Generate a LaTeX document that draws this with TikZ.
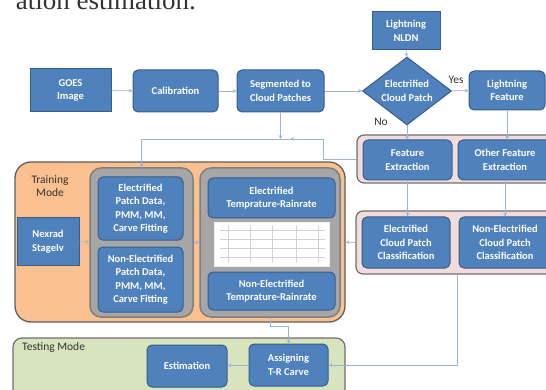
\documentclass[tikz,border=0pt]{standalone}
\usepackage{fontspec}
\setmainfont{Carlito}
\newfontfamily\capfont{Liberation Serif}
\usetikzlibrary{positioning,shapes.geometric}
\definecolor{boxblue}{HTML}{4F81BD}
\definecolor{boxedge}{HTML}{385D8A}
\definecolor{linecol}{HTML}{9DB3D3}
\definecolor{trainfill}{HTML}{FAC08F}
\definecolor{grpfill}{HTML}{A6A6A6}
\definecolor{pinkfill}{HTML}{F2DCDB}
\definecolor{testfill}{HTML}{D7E4BD}
\definecolor{darkedge}{HTML}{5F5F5F}
\definecolor{labelcol}{HTML}{333333}

\begin{document}
\begin{tikzpicture}[
		x=1pt,y=-1pt,
		>=stealth,
		box/.style={
			draw=boxedge,
			fill=boxblue,
			line width=1pt,
			rounded corners=5pt,
			text=white,
			align=center,
			inner sep=1pt,
			font=\bfseries\fontsize{10.5}{13.5}\selectfont,
		},
		sqbox/.style={box,sharp corners},
		choice/.style={box,diamond,sharp corners,inner sep=0pt,aspect=1.3},
		trainbox/.style={draw=darkedge,fill=trainfill,line width=1.3pt,rounded corners=16pt},
		grpbox/.style={draw=darkedge!80,fill=grpfill,line width=1.5pt,rounded corners=11pt},
		pinkbox/.style={draw=darkedge!90,fill=pinkfill,line width=1.2pt,rounded corners=7pt},
		testbox/.style={draw=darkedge!90,fill=testfill,line width=1.2pt,rounded corners=9pt},
		lbl/.style={text=labelcol,align=center,inner sep=0pt,font=\fontsize{11.5}{13}\selectfont},
		conn/.style={draw=linecol,line width=0.7pt},
		gridline/.style={draw=gray!35,line width=0.4pt},
	]
	\useasboundingbox (0,0) rectangle (546,390);
	% caption text cut at the top
	\node[text=black!80,inner sep=0pt,anchor=base east,font=\capfont\fontsize{27}{27}\selectfont]
		(capfrag) at (196,10) {ation estimation.};
	% containers
	\node[trainbox,minimum width=330pt,minimum height=160pt] (training) at (180,242) {};
	\node[grpbox,minimum width=103pt,minimum height=149pt] (grp1) at (141.5,242.5) {};
	\node[grpbox,minimum width=140pt,minimum height=149pt] (grp2) at (270,242.5) {};
	\node[pinkbox,minimum width=201pt,minimum height=48pt] (featgrp) at (457.5,159) {};
	\node[pinkbox,minimum width=202pt,minimum height=63pt] (clsgrp) at (457,242.5) {};
	\node[testbox,minimum width=332pt,minimum height=62pt] (testing) at (179,369) {};
	% top row
	\node[sqbox,minimum width=81pt,minimum height=43pt] (goes) at (70.5,90.5) {GOES\\Image};
	\node[box,minimum width=85pt,minimum height=42pt] (calib) at (175.5,91) {Calibration};
	\node[box,minimum width=87pt,minimum height=42pt] (seg) at (280.5,91) {Segmented to\\Cloud Patches};
	\node[sqbox,minimum width=68pt,minimum height=38pt] (nldn) at (406,31) {Lightning\\NLDN};
	\node[choice,minimum width=89pt,minimum height=68pt] (decide) at (407,91) {Electrified\\Cloud Patch};
	\node[box,minimum width=76pt,minimum height=39pt] (lfeat) at (507,90.5) {Lightning\\Feature};
	\node[lbl] (yeslbl) at (456,80) {Yes};
	\node[lbl] (nolbl) at (381,122) {No};
	% right side
	\node[box,minimum width=89pt,minimum height=40pt] (featx) at (407.5,160) {Feature\\Extraction};
	\node[box,minimum width=94pt,minimum height=40pt] (otherfx) at (505,160) {Other Feature\\Extraction};
	\node[box,minimum width=88pt,minimum height=51pt] (ecls) at (406,242.5) {Electrified\\Cloud Patch\\Classification};
	\node[box,minimum width=92pt,minimum height=51pt] (necls) at (505,242.5) {Non-Electrified\\Cloud Patch\\Classification};
	% training mode
	\node[lbl] (trainlbl) at (50,186) {Training\\Mode};
	\node[sqbox,minimum width=62pt,minimum height=47pt] (nexrad) at (48,241.5) {Nexrad\\StageIv};
	\node[box,minimum width=85pt,minimum height=63pt] (epd) at (140.5,208.5) {Electrified\\Patch Data,\\PMM, MM,\\Carve Fitting};
	\node[box,minimum width=85pt,minimum height=65pt] (nepd) at (140.5,279.5) {Non-Electrified\\Patch Data,\\PMM, MM,\\Carve Fitting};
	\node[box,minimum width=127pt,minimum height=40pt] (etr) at (271.5,198) {Electrified\\Temprature-Rainrate};
	\node[fill=white,draw=white!90!gray,minimum width=115pt,minimum height=44pt] (chartimg) at (272,244) {};
	\foreach \gx in {228,250,272,296,318}
		\draw[gridline] (\gx,226) -- (\gx,262);
	\foreach \gy in {230,239,248,257}
		\draw[gridline] (220,\gy) -- (325,\gy);
	\node[box,minimum width=127pt,minimum height=38pt] (netr) at (271.5,291) {Non-Electrified\\Temprature-Rainrate};
	% testing mode
	\node[lbl,anchor=west] (testlbl) at (22,347) {Testing Mode};
	\node[box,minimum width=80pt,minimum height=42pt] (est) at (187,366) {Estimation};
	\node[box,minimum width=79pt,minimum height=42pt] (assign) at (288.5,365) {Assigning\\T-R Carve};
	% connection lines
	\coordinate (segdrop) at (280.5,139);
	\coordinate (looptop) at (323,139);
	\coordinate (loopend) at (290,139);
	\draw[conn,->] (goes) -- (calib);
	\draw[conn,->] (calib) -- (seg);
	\draw[conn,->] (seg) -- (decide);
	\draw[conn,->] (nldn) -- (decide);
	\draw[conn,->] (decide) -- (lfeat);
	\draw[conn,->] (decide.south) -- (decide.south |- featx.north);
	\draw[conn,->] (lfeat.south) -- (lfeat.south |- otherfx.north);
	\draw[conn,->] (seg) -- (segdrop);
	\draw[conn,->] (featgrp.west) -| (looptop) -- (loopend);
	\draw[conn,->] (looptop) -| (grp1.north);
	\draw[conn,->] (featx.south) -- (featx.south |- ecls.north);
	\draw[conn,->] (otherfx.south) -- (otherfx.south |- necls.north);
	\draw[conn,->] (clsgrp.west) -- (training.east);
	\draw[conn,->] (nexrad) -- (grp1);
	\draw[conn,->] (grp1) -- (grp2);
	\draw[conn,->] (grp2.south) -- ++(0,9) -| (assign.north);
	\draw[conn,->] (clsgrp.south) |- (assign.east);
	\draw[conn,->] (assign) -- (est);
\end{tikzpicture}
\end{document}
